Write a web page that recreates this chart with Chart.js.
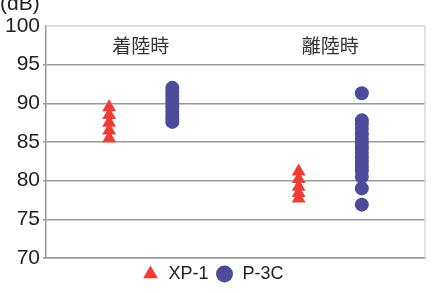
<!DOCTYPE html>
<html>
<head>
<meta charset="utf-8">
<script src="https://cdn.jsdelivr.net/npm/chart.js@4/dist/chart.umd.min.js"></script>
<style>
html,body{margin:0;padding:0;background:#fff;}
#wrap{width:433px;height:293px;}
</style>
</head>
<body>
<div id="wrap"><canvas id="c" width="433" height="293"></canvas></div>
<script>
const categories = ['着陸時', '離陸時'];
const seriesNames = ['XP-1', 'P-3C'];
const yTicks = [70, 75, 80, 85, 90, 95, 100];
const unitLabel = '(dB)';
const xp1Landing = [89.5, 88.5, 87.5, 86.5, 85.5];
const p3cLanding = [92, 91.5, 91, 90.5, 90, 89.5, 89, 88.5, 88, 87.6];
const xp1Takeoff = [81.2, 80.2, 79.2, 78.4, 77.7];
const p3cTakeoff = [91.3, 87.8, 87.3, 86.7, 86, 85.4, 84.8, 84.2, 83.6, 83, 82.4, 81.8, 81.3, 80.5, 79, 76.9];

const RED = '#f03c36';
const BLUE = '#4d4b9b';
const catX = [1.5, 4.5];
const toPts = (x, arr) => arr.map(v => ({x: x, y: v}));

const overlay = {
  id: 'overlay',
  afterDraw(chart) {
    const {ctx, scales} = chart;
    const xs = scales.x, ys = scales.y;
    ctx.save();
    ctx.fillStyle = '#333';
    ctx.font = '19px "Noto Sans CJK JP", sans-serif';
    ctx.textAlign = 'center';
    ctx.textBaseline = 'middle';
    categories.forEach((c, i) => {
      ctx.fillText(c, xs.getPixelForValue(catX[i]), ys.getPixelForValue(97.5));
    });
    ctx.font = '21px "Liberation Sans", Arial, sans-serif';
    ctx.fillStyle = '#222';
    ctx.textAlign = 'left';
    ctx.fillText(unitLabel, 0, 4);
    ctx.restore();
  },
  beforeDatasetsDraw(chart) {
    const {ctx, chartArea: a} = chart;
    ctx.save();
    ctx.strokeStyle = '#d8d8d8';
    ctx.lineWidth = 1.5;
    ctx.beginPath();
    ctx.moveTo(a.left, a.top); ctx.lineTo(a.right, a.top); ctx.lineTo(a.right, a.bottom);
    ctx.stroke();
    ctx.restore();
  }
};

new Chart(document.getElementById('c'), {
  type: 'scatter',
  data: {
    datasets: [
      {
        label: seriesNames[0],
        data: toPts(1, xp1Landing).concat(toPts(4, xp1Takeoff)),
        pointStyle: 'triangle',
        pointRadius: 8,
        backgroundColor: RED,
        borderColor: RED,
        borderWidth: 0
      },
      {
        label: seriesNames[1],
        data: toPts(2, p3cLanding).concat(toPts(5, p3cTakeoff)),
        pointStyle: 'circle',
        pointRadius: 7,
        backgroundColor: BLUE,
        borderColor: BLUE,
        borderWidth: 0
      }
    ]
  },
  options: {
    responsive: false,
    animation: false,
    devicePixelRatio: 1,
    layout: {padding: {left: 0, right: 8, top: 26, bottom: 0}},
    scales: {
      x: {
        type: 'linear',
        min: 0, max: 6,
        ticks: {display: false},
        grid: {display: false},
        border: {display: true, color: '#999', width: 1.5},
        afterFit(s) { s.height = 0; }
      },
      y: {
        min: 70, max: 100,
        afterBuildTicks(s) { s.ticks = yTicks.map(v => ({value: v})); },
        ticks: {
          color: '#222',
          font: {size: 21, family: '"Liberation Sans", Arial, sans-serif'},
          padding: 3
        },
        grid: {
          color: ctx => (ctx.tick && ctx.tick.value === 100) ? 'rgba(0,0,0,0)' : '#999',
          lineWidth: 1.5,
          tickLength: 3
        },
        border: {display: true, color: '#999', width: 1.5},
        afterFit(s) { s.width = 46; }
      }
    },
    plugins: {
      legend: {
        position: 'bottom',
        labels: {
          usePointStyle: true,
          color: '#222',
          font: {size: 18, family: '"Liberation Sans", Arial, sans-serif'},
          padding: 7,
          boxHeight: 12
        }
      },
      tooltip: {enabled: false}
    }
  },
  plugins: [overlay]
});
</script>
</body>
</html>
